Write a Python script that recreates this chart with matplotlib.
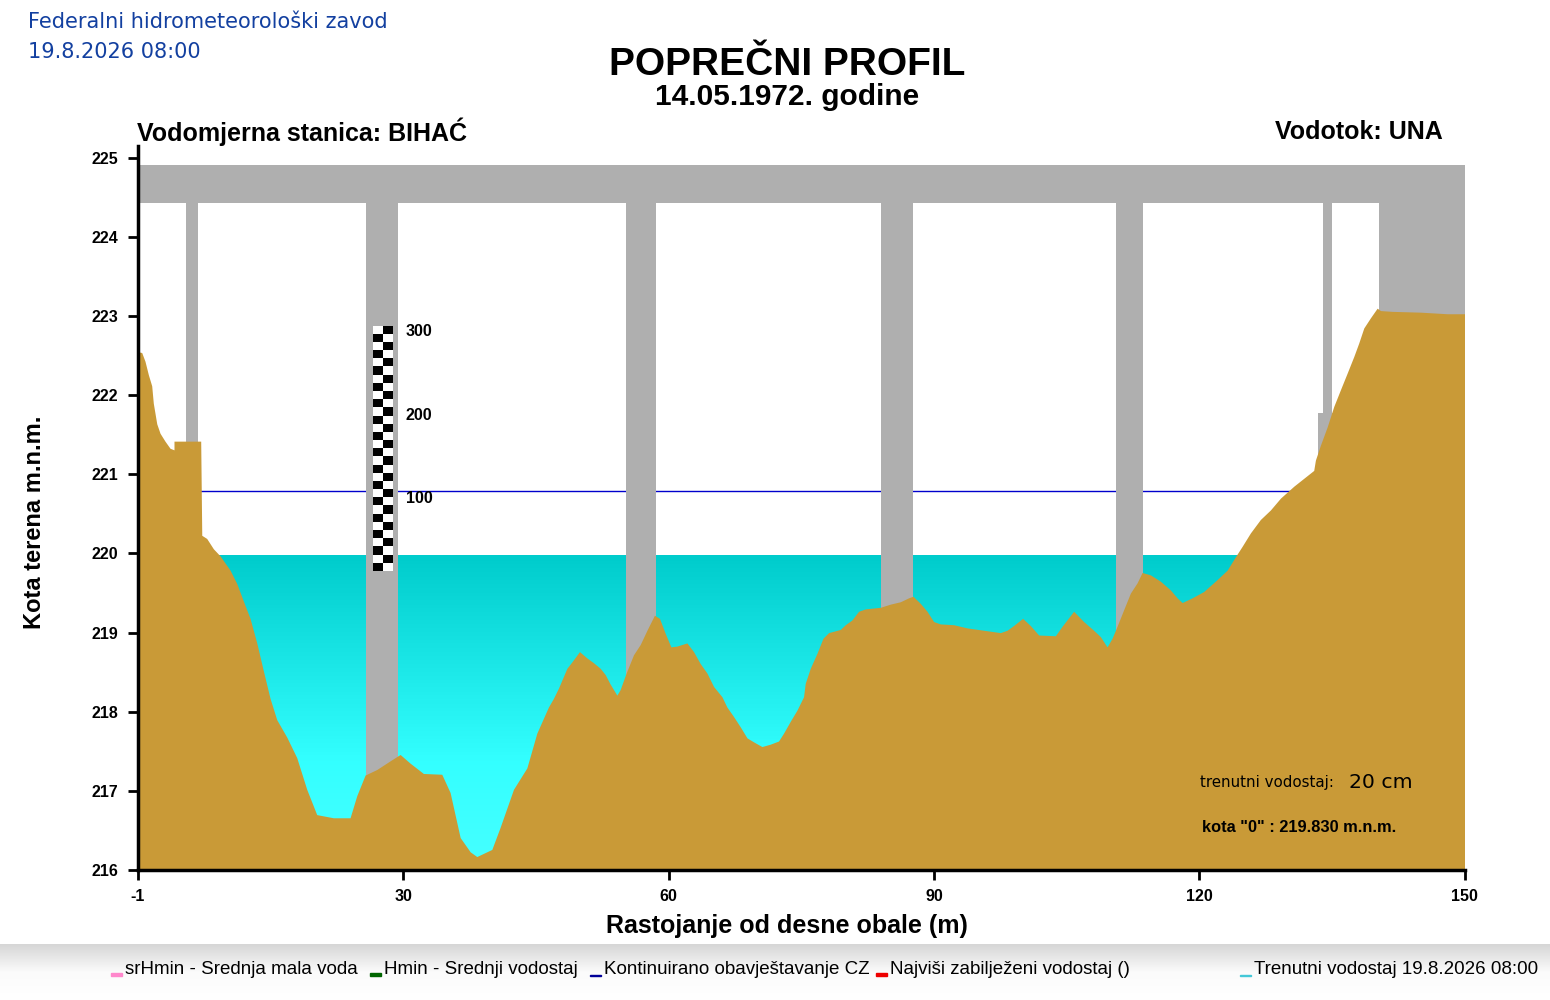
import numpy as np
import matplotlib
matplotlib.use("Agg")
import matplotlib.pyplot as plt
from matplotlib.colors import LinearSegmentedColormap
from matplotlib.patches import Rectangle

W, H = 1550, 1000

# poprecni profil korita (stacionaza m, kota m.n.m.)
station = [0.00, 0.42, 0.79, 1.17, 1.55, 1.73, 2.12, 2.49, 3.05, 3.62, 4.07, 4.07,
           7.09, 7.21, 7.77, 8.52, 9.28, 10.41, 11.17, 11.91, 12.67, 13.43, 14.17,
           14.93, 15.69, 16.82, 17.95, 19.08, 20.21, 22.09, 23.98, 24.74, 25.68,
           27.00, 28.51, 29.64, 30.77, 32.27, 34.35, 35.29, 36.43, 37.56, 38.31,
           40.01, 40.95, 42.46, 43.97, 45.10, 46.41, 46.98, 47.55, 48.50, 49.06,
           49.92, 50.76, 51.50, 52.26, 52.83, 53.39, 54.15, 54.52, 55.20, 56.03,
           56.79, 57.55, 58.40, 58.97, 59.62, 60.26, 60.94, 62.07, 62.82, 63.57,
           64.33, 65.08, 66.03, 66.59, 67.34, 68.10, 68.86, 69.60, 70.55, 71.49,
           72.43, 73.00, 73.76, 74.51, 75.26, 75.45, 76.02, 76.78, 77.46, 78.09,
           79.41, 79.98, 80.73, 81.48, 82.24, 83.94, 85.07, 86.20, 87.14, 87.64,
           88.46, 89.22, 89.97, 90.72, 92.23, 93.74, 95.62, 97.51, 98.27, 99.01,
           100.03, 100.90, 101.84, 103.73, 104.49, 105.80, 106.93, 108.06, 108.82,
           109.58, 110.15, 110.71, 111.46, 112.22, 112.98, 113.54, 114.48, 115.61,
           116.74, 117.50, 118.07, 119.20, 120.51, 122.02, 123.16, 124.10, 124.85,
           125.79, 126.92, 128.05, 129.19, 130.69, 131.82, 132.95, 133.14, 133.71,
           134.47, 135.22, 135.97, 136.73, 137.48, 138.04, 138.61, 139.37, 140.12,
           140.50, 141.82, 145.02, 148.04, 150.00]
elevation = [222.55, 222.54, 222.43, 222.26, 222.12, 221.90, 221.64, 221.52, 221.42,
             221.33, 221.31, 221.42, 221.42, 220.23, 220.19, 220.06, 219.97, 219.79,
             219.62, 219.40, 219.18, 218.87, 218.52, 218.17, 217.90, 217.68, 217.42,
             217.02, 216.70, 216.66, 216.66, 216.94, 217.20, 217.27, 217.38, 217.46,
             217.35, 217.22, 217.21, 216.98, 216.41, 216.23, 216.17, 216.26, 216.54,
             217.02, 217.29, 217.73, 218.06, 218.17, 218.30, 218.55, 218.63, 218.76,
             218.68, 218.62, 218.55, 218.47, 218.35, 218.21, 218.28, 218.49, 218.72,
             218.85, 219.03, 219.22, 219.18, 218.99, 218.82, 218.83, 218.87, 218.76,
             218.61, 218.49, 218.32, 218.19, 218.06, 217.94, 217.81, 217.67, 217.62,
             217.56, 217.59, 217.63, 217.73, 217.88, 218.02, 218.19, 218.36, 218.55,
             218.74, 218.93, 219.00, 219.04, 219.10, 219.16, 219.27, 219.30, 219.32,
             219.36, 219.39, 219.44, 219.46, 219.37, 219.27, 219.14, 219.11, 219.10,
             219.06, 219.03, 219.00, 219.03, 219.09, 219.18, 219.09, 218.97, 218.96,
             219.08, 219.27, 219.14, 219.03, 218.95, 218.82, 218.93, 219.08, 219.29,
             219.50, 219.63, 219.76, 219.73, 219.65, 219.54, 219.44, 219.38, 219.44,
             219.52, 219.67, 219.79, 219.96, 220.09, 220.26, 220.43, 220.55, 220.70,
             220.85, 220.95, 221.05, 221.18, 221.37, 221.60, 221.86, 222.07, 222.28,
             222.49, 222.66, 222.85, 222.98, 223.10, 223.07, 223.06, 223.05, 223.03,
             223.03]

water_level = 219.98       # trenutni vodostaj
water_end = 142.8
cz_level = 220.79          # kontinuirano obavjestavanje CZ

# most: ploca, stubovi, upornjak
deck = (224.43, 224.91)
piers = [(5.43, 6.79), (25.79, 29.41), (55.20, 58.60), (84.05, 87.67), (110.60, 113.60),
         (133.97, 135.03)]
pier_base = (133.48, 135.20, 221.77)
abutment = (140.38, 150.0)

# vodomjerna letva
gauge_x = (26.55, 28.81)
gauge_y = (219.78, 222.88)
gauge_rows = 30
gauge_labels = ["100", "200", "300"]
gauge_label_y = [220.70, 221.74, 222.80]

xticks = [0, 30, 60, 90, 120, 150]
xtick_labels = ["-1", "30", "60", "90", "120", "150"]
yticks = list(range(216, 226))

legend_items = [("srHmin - Srednja mala voda", "#ff88cc", 111, 3),
                ("Hmin - Srednji vodostaj", "#006600", 370, 3),
                ("Kontinuirano obavještavanje CZ", "#000099", 590, 1),
                ("Najviši zabilježeni vodostaj ()", "#ee0000", 876, 3),
                ("Trenutni vodostaj 19.8.2026 08:00", "#44c8d8", 1240, 1)]

plt.rcParams["font.family"] = ["Liberation Sans", "DejaVu Sans"]

fig = plt.figure(figsize=(W / 100, H / 100), dpi=100)

# donja traka legende
band = fig.add_axes([0, 0, 1, 56 / H])
grad = np.linspace(0, 1, 100).reshape(-1, 1)
band.imshow(grad, aspect="auto", extent=[0, 1, 0, 1], origin="lower",
            cmap=LinearSegmentedColormap.from_list("band", ["#ffffff", "#fbfbfb", "#d6d6d6"]))
band.axis("off")

ax = fig.add_axes([138 / W, 130 / H, 1326.5 / W, 724 / H])
ax.set_xlim(0, 150)
ax.set_ylim(216, 225.15)

water_cmap = LinearSegmentedColormap.from_list(
    "water", [(0.0, "#46ffff"), (0.35, "#33ffff"), (1.0, "#00cccc")])
ax.imshow(np.linspace(0, 1, 200).reshape(-1, 1), cmap=water_cmap, origin="lower",
          aspect="auto", extent=[0, water_end, 216, water_level], zorder=1)

ax.hlines(cz_level, 0, 150, color="#0000cc", lw=1, zorder=2)

grey = "#afafaf"
ax.add_patch(Rectangle((0, deck[0]), 150, deck[1] - deck[0], color=grey, lw=0, zorder=3))
for x0, x1 in piers:
    ax.add_patch(Rectangle((x0, 216), x1 - x0, deck[0] - 216 + 0.01, color=grey, lw=0, zorder=3))
ax.add_patch(Rectangle((pier_base[0], 216), pier_base[1] - pier_base[0], pier_base[2] - 216,
                       color=grey, lw=0, zorder=3))
ax.add_patch(Rectangle((abutment[0], 216), abutment[1] - abutment[0], deck[0] - 216 + 0.01,
                       color=grey, lw=0, zorder=3))

ax.fill_between(station, 216, elevation, color="#c99a37", lw=0, zorder=4)

# letva - sahovsko polje
row_h = (gauge_y[1] - gauge_y[0]) / gauge_rows
xm = (gauge_x[0] + gauge_x[1]) / 2
for i in range(gauge_rows):
    y0 = gauge_y[0] + i * row_h
    left_black = (i % 2 == 0)
    ax.add_patch(Rectangle((gauge_x[0], y0), xm - gauge_x[0], row_h,
                           color="black" if left_black else "white", lw=0, zorder=5))
    ax.add_patch(Rectangle((xm, y0), gauge_x[1] - xm, row_h,
                           color="white" if left_black else "black", lw=0, zorder=5))
for lab, y in zip(gauge_labels, gauge_label_y):
    ax.text(30.3, y, lab, fontsize=11.5, fontweight="bold", va="center", ha="left", zorder=6)

for s in ["top", "right"]:
    ax.spines[s].set_visible(False)
for s in ["left", "bottom"]:
    ax.spines[s].set_linewidth(2.5)
    ax.spines[s].set_zorder(10)
ax.set_xticks(xticks)
ax.set_xticklabels(xtick_labels)
ax.set_yticks(yticks)
ax.tick_params(direction="out", length=7, width=2, labelsize=11.5, pad=7)
for t in ax.get_xticklabels() + ax.get_yticklabels():
    t.set_fontweight("bold")

# naslovi
blue = "#1340a0"
fig.text(28 / W, 1 - 22 / H, "Federalni hidrometeorološki zavod", color=blue,
         fontsize=15, family="DejaVu Sans", va="center")
fig.text(28 / W, 1 - 52 / H, "19.8.2026 08:00", color=blue,
         fontsize=15, family="DejaVu Sans", va="center")
fig.text(787 / W, 1 - 65 / H, "POPREČNI PROFIL", fontsize=28, fontweight="bold",
         ha="center", va="center")
fig.text(787 / W, 1 - 97 / H, "14.05.1972. godine", fontsize=21.5, fontweight="bold",
         ha="center", va="center")
fig.text(137 / W, 1 - 132 / H, "Vodomjerna stanica: BIHAĆ", fontsize=18, fontweight="bold",
         ha="left", va="center")
fig.text(1443 / W, 1 - 132 / H, "Vodotok: UNA", fontsize=18, fontweight="bold",
         ha="right", va="center")
fig.text(35 / W, 1 - 522 / H, "Kota terena m.n.m.", fontsize=17, fontweight="bold",
         rotation=90, ha="center", va="center")
fig.text(787 / W, 1 - 926 / H, "Rastojanje od desne obale (m)", fontsize=18,
         fontweight="bold", ha="center", va="center")

fig.text(1200 / W, 1 - 782 / H, "trenutni vodostaj:", fontsize=10.8, family="DejaVu Sans",
         ha="left", va="center")
fig.text(1349 / W, 1 - 782 / H, "20 cm", fontsize=14.7, family="DejaVu Sans",
         ha="left", va="center")
fig.text(1202 / W, 1 - 828 / H, 'kota "0" : 219.830 m.n.m.', fontsize=11.8, fontweight="bold",
         ha="left", va="center")

# legenda
for label, col, x, lw in legend_items:
    fig.patches.append(Rectangle((x / W, 1 - 976 / H), 11 / W, lw / H, color=col,
                                 transform=fig.transFigure, figure=fig))
    fig.text((x + 14) / W, 1 - 970 / H, label, fontsize=13.5, ha="left", va="center")

fig.savefig("out.png", dpi=100)
